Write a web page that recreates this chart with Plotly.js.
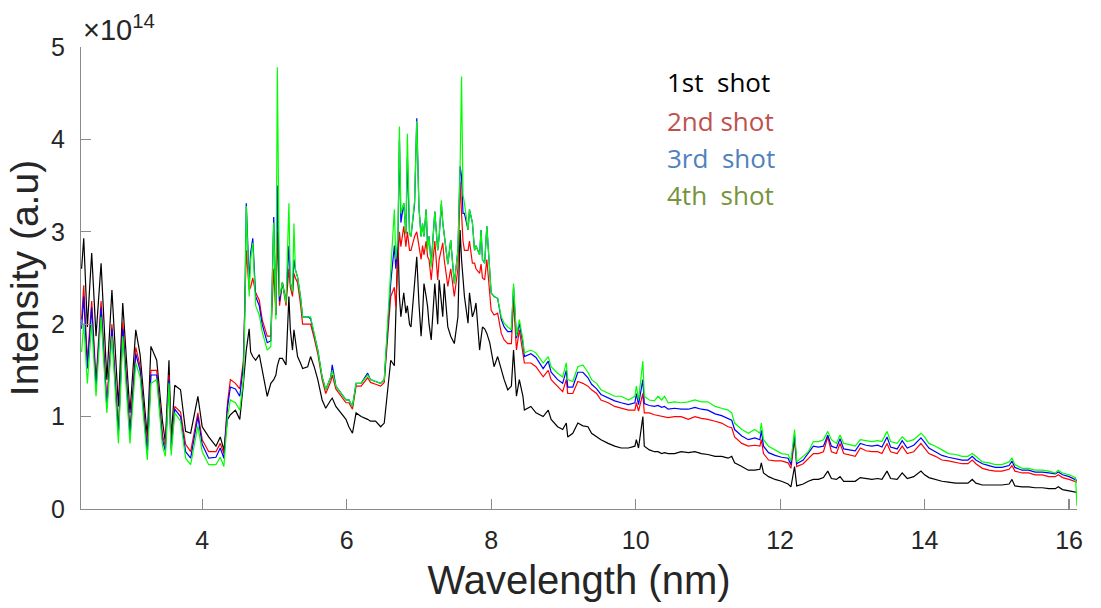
<!DOCTYPE html>
<html>
<head>
<meta charset="utf-8">
<script src="https://cdn.plot.ly/plotly-3.0.1.min.js"></script>
<style>html,body{margin:0;padding:0;background:#fff;}#chart{width:1101px;height:608px;}</style>
</head>
<body>
<div id="chart"></div>
<script>
// Wavelength (nm)
const wavelength = [2.33,2.36,2.41,2.47,2.53,2.60,2.68,2.75,2.84,2.90,3.00,3.08,3.14,3.24,3.29,3.37,3.45,3.49,3.54,3.57,3.62,3.70,3.77,3.84,3.94,4.00,4.09,4.19,4.25,4.30,
4.35,4.39,4.46,4.52,4.57,4.59,4.61,4.65,4.67,4.70,4.74,4.79,4.83,4.90,4.95,4.99,5.02,5.04,5.07,5.11,5.16,5.20,5.22,5.25,5.27,5.29,5.32,5.36,5.39,5.46,
5.50,5.55,5.60,5.66,5.71,5.78,5.80,5.85,5.92,5.99,6.03,6.08,6.13,6.20,6.29,6.33,6.40,6.47,6.52,6.57,6.61,6.66,6.68,6.71,6.73,6.75,6.79,6.82,6.84,6.87,
6.89,6.94,6.97,7.00,7.03,7.05,7.07,7.10,7.12,7.14,7.17,7.22,7.26,7.28,7.31,7.33,7.35,7.38,7.40,7.44,7.49,7.54,7.57,7.59,7.61,7.63,7.68,7.70,7.74,7.77,
7.79,7.84,7.86,7.88,7.91,7.94,7.98,8.00,8.04,8.09,8.14,8.18,8.23,8.28,8.31,8.35,8.39,8.44,8.46,8.55,8.62,8.72,8.79,8.83,8.92,8.99,9.04,9.06,9.13,9.20,
9.27,9.34,9.39,9.46,9.52,9.62,9.71,9.80,9.90,9.99,10.01,10.04,10.10,10.12,10.19,10.26,10.31,10.36,10.40,10.45,10.54,10.63,10.73,10.82,10.91,11.00,11.10,11.19,11.28,11.33,
11.37,11.47,11.56,11.65,11.72,11.74,11.77,11.84,11.93,12.02,12.11,12.15,12.20,12.23,12.32,12.39,12.46,12.53,12.60,12.66,12.71,12.78,12.83,12.88,12.95,13.04,13.11,13.19,13.27,13.35,
13.41,13.48,13.53,13.62,13.69,13.76,13.85,13.95,14.00,14.06,14.15,14.24,14.33,14.43,14.52,14.60,14.66,14.71,14.80,14.89,14.98,15.07,15.17,15.21,15.25,15.35,15.44,15.53,15.63,15.72,
15.81,15.85,15.91,16.00,16.09,16.11];

// Intensity in units of 1e14 (a.u.)
const shot1 = [2.60,2.93,1.97,2.77,1.87,2.66,1.40,2.37,1.11,2.23,1.04,1.94,1.67,0.78,1.76,1.61,0.95,0.72,1.61,0.75,1.34,1.29,0.84,0.82,1.22,0.89,0.78,0.68,0.78,0.64,
0.97,1.02,1.07,0.97,1.36,1.54,1.72,1.95,1.70,1.65,1.61,1.67,1.51,1.22,1.36,1.40,1.45,1.55,1.63,1.63,1.56,2.30,1.94,1.72,1.94,1.80,1.65,1.58,1.52,1.54,
1.65,1.54,1.40,1.18,1.09,1.18,1.20,1.11,1.04,0.97,0.89,0.82,1.04,1.00,0.97,0.95,0.95,0.89,0.93,1.30,1.61,1.55,2.23,2.91,2.30,2.08,2.34,2.12,2.20,2.00,
1.97,2.44,2.73,2.23,1.87,2.10,2.44,2.30,2.19,2.00,1.83,2.44,2.00,2.48,2.20,2.08,2.44,2.10,1.97,1.87,1.79,2.08,3.02,2.70,2.44,2.30,2.01,2.34,2.08,2.15,
2.23,1.72,1.85,1.97,1.95,1.90,1.80,1.72,1.54,1.65,1.51,1.40,1.29,1.33,1.72,1.22,1.40,1.22,1.07,1.11,1.04,1.00,1.07,0.97,0.89,0.86,0.93,0.78,0.82,0.93,
0.90,0.89,0.82,0.78,0.75,0.71,0.68,0.66,0.66,0.68,0.75,0.66,1.00,0.68,0.64,0.62,0.62,0.60,0.61,0.60,0.60,0.62,0.61,0.62,0.60,0.59,0.57,0.57,0.55,0.57,
0.50,0.46,0.42,0.42,0.43,0.50,0.39,0.35,0.32,0.30,0.27,0.24,0.46,0.25,0.27,0.30,0.32,0.32,0.34,0.41,0.33,0.32,0.35,0.30,0.30,0.30,0.34,0.33,0.32,0.33,
0.32,0.41,0.33,0.32,0.39,0.33,0.35,0.41,0.37,0.34,0.32,0.30,0.29,0.28,0.28,0.28,0.32,0.28,0.26,0.26,0.26,0.26,0.27,0.32,0.25,0.24,0.24,0.23,0.23,0.22,
0.22,0.24,0.21,0.20,0.19,0.18];

const shot2 = [2.05,2.42,1.60,2.25,1.40,2.25,1.15,2.00,0.85,2.02,0.85,1.75,1.55,0.65,1.50,1.50,0.80,0.68,1.45,0.68,1.11,1.05,0.70,0.62,1.04,0.75,0.62,0.62,0.71,0.60,
1.15,1.40,1.36,1.30,1.60,2.26,2.80,2.37,2.40,2.50,2.34,2.26,2.05,1.87,1.87,2.60,2.10,3.00,2.20,2.45,2.20,2.60,2.40,2.30,2.55,2.50,2.45,2.22,2.00,2.00,
2.00,1.85,1.68,1.40,1.25,1.38,1.45,1.30,1.22,1.15,1.15,1.08,1.33,1.33,1.42,1.37,1.35,1.33,1.37,1.90,2.30,2.40,2.19,2.70,3.00,2.84,3.06,2.84,3.00,2.80,
2.80,2.95,3.00,2.85,2.70,2.85,2.75,2.90,2.73,2.70,2.48,2.90,2.48,2.70,2.80,2.88,2.70,2.50,2.41,2.60,2.30,2.60,3.54,3.20,2.90,2.80,2.80,2.90,2.66,2.66,
2.60,2.55,2.65,2.50,2.48,2.70,2.30,2.15,2.10,2.12,1.90,1.83,1.79,1.79,2.26,1.72,1.94,1.69,1.58,1.58,1.54,1.43,1.50,1.40,1.33,1.27,1.40,1.25,1.25,1.38,
1.36,1.33,1.29,1.25,1.18,1.15,1.11,1.09,1.07,1.07,1.15,1.06,1.25,1.04,1.04,1.02,1.01,1.00,1.00,0.99,1.00,1.00,0.97,1.00,0.98,0.97,0.95,0.93,0.89,0.88,
0.78,0.71,0.68,0.69,0.68,0.75,0.60,0.53,0.52,0.52,0.50,0.44,0.75,0.46,0.49,0.55,0.60,0.60,0.62,0.78,0.62,0.60,0.71,0.60,0.59,0.57,0.66,0.63,0.62,0.62,
0.60,0.71,0.62,0.60,0.68,0.60,0.62,0.71,0.66,0.60,0.57,0.53,0.52,0.50,0.49,0.49,0.53,0.49,0.44,0.42,0.41,0.41,0.43,0.47,0.41,0.39,0.39,0.37,0.37,0.35,
0.35,0.37,0.34,0.32,0.30,0.29];

const shot3 = [1.95,2.30,1.52,2.18,1.32,2.18,1.10,1.95,0.80,1.95,0.80,1.68,1.50,0.60,1.45,1.45,0.75,0.63,1.40,0.64,1.08,1.00,0.62,0.55,1.00,0.70,0.55,0.56,0.66,0.55,
1.10,1.32,1.30,1.22,1.55,2.20,3.31,2.45,2.77,2.93,2.30,2.20,2.00,1.80,1.82,3.16,2.10,3.50,2.25,2.45,2.25,2.85,2.45,2.35,2.70,2.59,2.51,2.30,2.08,2.08,
2.06,1.90,1.72,1.43,1.29,1.43,1.56,1.33,1.25,1.18,1.18,1.11,1.36,1.36,1.47,1.40,1.38,1.36,1.40,1.95,2.45,2.85,2.60,2.90,4.00,3.10,3.31,2.98,3.80,2.98,
2.95,3.30,4.23,3.27,2.95,3.09,2.95,3.24,2.85,2.95,2.65,3.22,2.80,2.95,3.30,3.10,2.95,2.73,2.65,2.91,2.44,2.80,3.71,3.60,3.20,3.20,3.02,3.24,3.10,2.80,
2.85,2.75,3.02,2.70,2.66,3.06,2.51,2.34,2.30,2.28,2.05,1.97,1.92,1.92,2.40,1.85,2.01,1.79,1.65,1.68,1.64,1.52,1.60,1.48,1.40,1.36,1.50,1.32,1.32,1.48,
1.48,1.42,1.35,1.30,1.24,1.20,1.17,1.15,1.13,1.15,1.25,1.13,1.40,1.14,1.12,1.11,1.12,1.10,1.11,1.08,1.09,1.08,1.08,1.10,1.08,1.07,1.03,1.01,0.98,0.96,
0.86,0.79,0.75,0.77,0.75,0.85,0.68,0.61,0.58,0.56,0.55,0.48,0.80,0.49,0.53,0.60,0.68,0.67,0.68,0.80,0.68,0.66,0.76,0.65,0.64,0.63,0.71,0.69,0.68,0.69,
0.67,0.78,0.67,0.65,0.74,0.66,0.69,0.77,0.72,0.66,0.62,0.58,0.56,0.54,0.53,0.53,0.57,0.53,0.49,0.47,0.45,0.45,0.47,0.52,0.45,0.42,0.42,0.40,0.40,0.39,
0.38,0.40,0.37,0.35,0.32,0.31];

const shot4 = [1.70,2.01,1.36,2.01,1.22,2.08,1.04,1.87,0.71,1.87,0.71,1.58,1.43,0.53,1.36,1.40,0.68,0.57,1.36,0.58,1.04,0.95,0.55,0.48,0.90,0.62,0.48,0.48,0.56,0.46,
1.00,1.18,1.15,1.07,1.40,2.10,3.28,2.30,2.70,2.88,2.20,2.10,1.92,1.72,1.76,3.10,2.05,4.78,2.30,2.45,2.23,3.31,2.45,2.35,3.09,2.59,2.51,2.30,2.08,2.08,
2.08,1.90,1.72,1.43,1.29,1.43,1.50,1.33,1.25,1.18,1.18,1.11,1.36,1.36,1.45,1.40,1.38,1.36,1.40,2.00,2.59,3.24,2.70,2.95,4.14,3.20,3.31,2.98,4.06,2.98,
2.95,3.34,4.20,3.27,2.95,3.09,2.95,3.24,2.80,2.95,2.62,3.22,2.80,2.95,3.34,3.10,2.95,2.73,2.65,2.91,2.44,2.80,3.71,4.68,3.40,3.31,3.02,3.24,3.10,2.80,
2.85,2.75,3.02,2.70,2.66,3.06,2.51,2.34,2.30,2.28,2.08,2.01,1.97,1.94,2.44,1.87,2.05,1.83,1.69,1.72,1.69,1.58,1.65,1.54,1.47,1.43,1.58,1.40,1.38,1.54,
1.56,1.48,1.40,1.36,1.29,1.25,1.22,1.22,1.18,1.22,1.33,1.18,1.60,1.22,1.18,1.17,1.22,1.18,1.22,1.15,1.16,1.15,1.16,1.18,1.16,1.16,1.11,1.09,1.07,1.04,
0.93,0.86,0.82,0.86,0.82,0.93,0.75,0.68,0.64,0.60,0.59,0.52,0.86,0.51,0.57,0.62,0.73,0.73,0.75,0.84,0.75,0.71,0.80,0.71,0.70,0.68,0.75,0.74,0.73,0.74,
0.73,0.84,0.73,0.71,0.78,0.73,0.75,0.82,0.78,0.71,0.68,0.64,0.60,0.59,0.57,0.57,0.60,0.57,0.51,0.50,0.48,0.48,0.51,0.55,0.48,0.44,0.44,0.42,0.42,0.41,
0.39,0.42,0.39,0.37,0.34,0.03];

const seriesNames = ['1st shot','2nd shot','3rd shot','4th shot'];
const seriesData = [shot1, shot2, shot3, shot4];
const lineColors = ['#000000','#ff0000','#0000ff','#00ff00'];
const labelColors = ['#000000','#C0504D','#4F81BD','#77933C'];
const labelTexts = ['1st\u00a0\u00a0shot','2nd shot','3rd\u00a0\u00a0shot','4th\u00a0\u00a0shot'];
const xTicks = [4,6,8,10,12,14,16];
const yTicks = [0,1,2,3,4,5];
const exponent = 14;

const traces = seriesData.map((ys, i) => ({
  x: wavelength, y: ys, type: 'scatter', mode: 'lines', name: seriesNames[i],
  line: {color: lineColors[i], width: 1.2}
}));

const axisCommon = {
  showline: true, linecolor: '#8a8a8a', linewidth: 1.2,
  ticks: 'inside', ticklen: 10, tickcolor: '#8a8a8a', tickwidth: 1.2,
  showgrid: false, zeroline: false,
  tickfont: {family: 'Liberation Sans, Arial, sans-serif', size: 25, color: '#262626'}
};

const legendY = [0.924, 0.840, 0.760, 0.680];
const annotations = labelTexts.map((t, i) => ({
  text: t, xref: 'paper', yref: 'paper', x: 0.586, y: legendY[i],
  xanchor: 'left', yanchor: 'middle', showarrow: false,
  font: {family: 'Open Sans, Noto Sans, sans-serif', size: 26, color: labelColors[i]}
}));
annotations.push({
  text: '\u00d710<sup>' + exponent + '</sup>', xref: 'paper', yref: 'paper', x: 0.0, y: 1.0,
  xanchor: 'left', yanchor: 'bottom', showarrow: false, xshift: 0, yshift: -1,
  font: {family: 'Liberation Sans, Arial, sans-serif', size: 29, color: '#262626'}
});

const layout = {
  width: 1101, height: 608,
  margin: {l: 81, r: 24, t: 47, b: 99},
  paper_bgcolor: '#ffffff', plot_bgcolor: '#ffffff',
  showlegend: false,
  xaxis: Object.assign({}, axisCommon, {
    range: [2.322, 16.11], tickmode: 'array', tickvals: xTicks,
    ticklabelstandoff: 9,
    title: {text: 'Wavelength (nm)', standoff: 12,
      font: {family: 'Liberation Sans, Arial, sans-serif', size: 40, color: '#262626'}}
  }),
  yaxis: Object.assign({}, axisCommon, {
    range: [0, 5], tickmode: 'array', tickvals: yTicks,
    ticklabelstandoff: 10,
    title: {text: 'Intensity (a.u)', standoff: 0,
      font: {family: 'Liberation Sans, Arial, sans-serif', size: 39, color: '#262626'}}
  }),
  annotations: annotations
};

Plotly.newPlot('chart', traces, layout, {displayModeBar: false, staticPlot: true});
</script>
</body>
</html>
